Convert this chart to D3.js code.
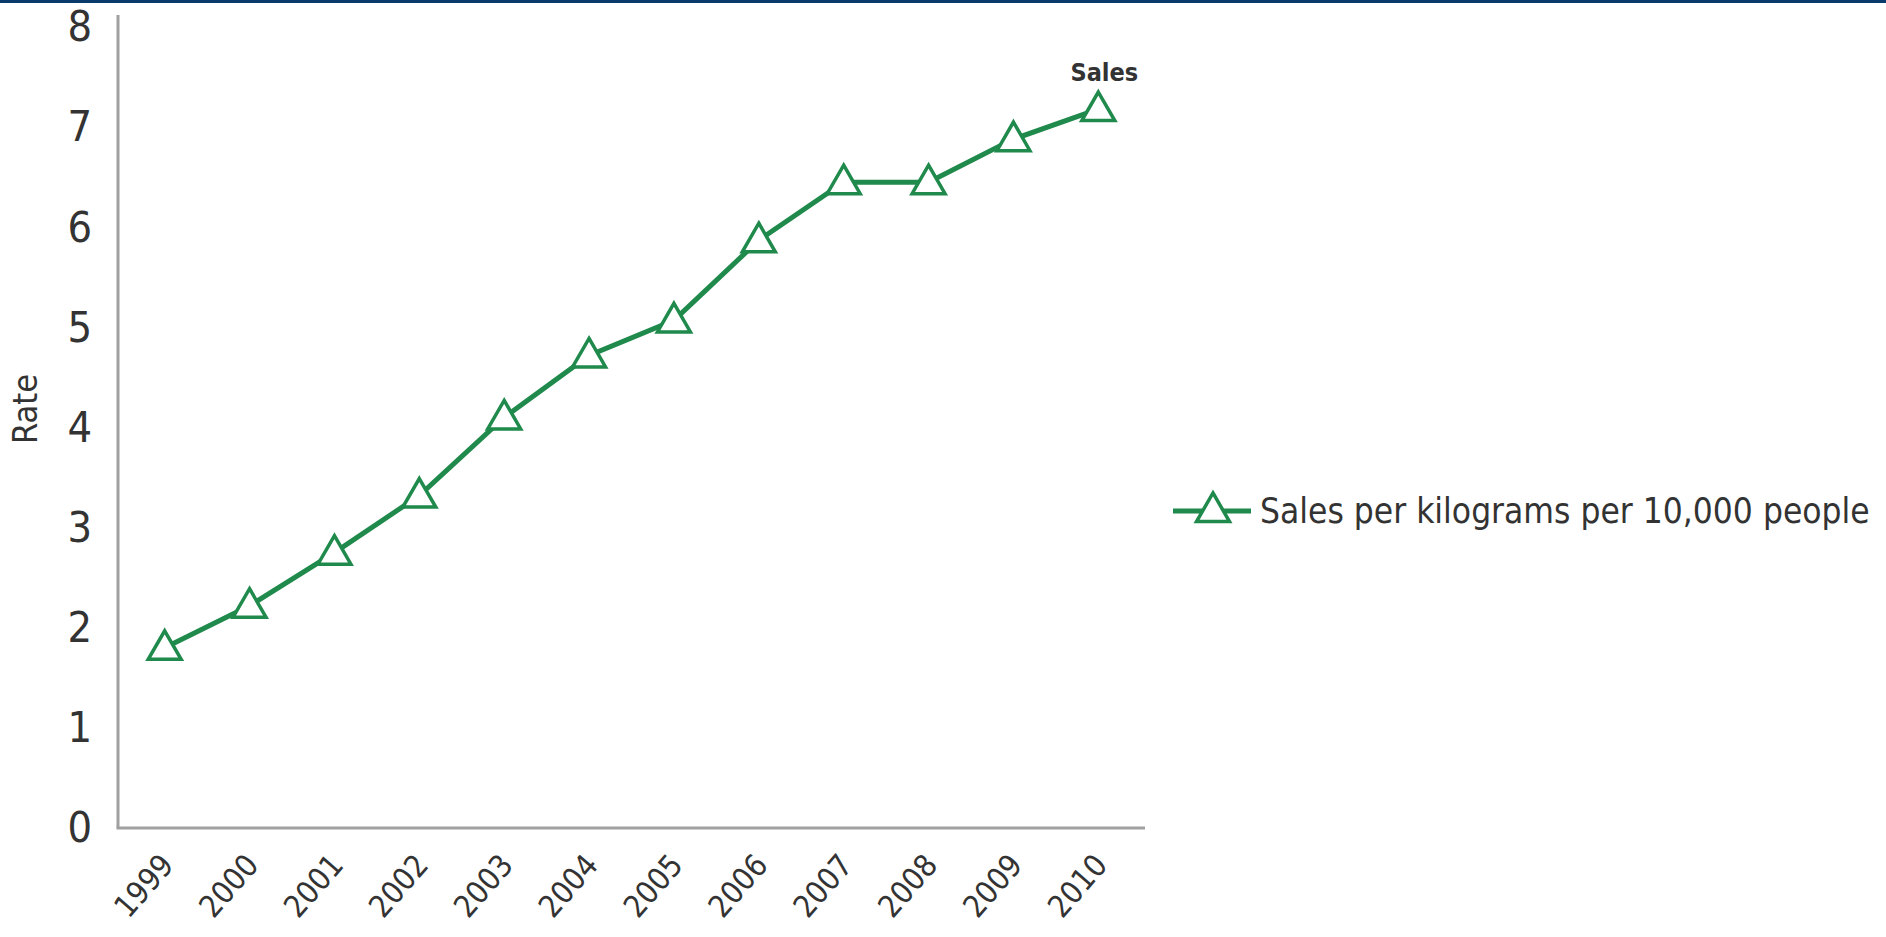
<html>
<script src="https://d3js.org/d3.v7.min.js"></script>
<style>
  body { margin: 0; background: #fff; }
  text { font-family: "DejaVu Sans Condensed", "Liberation Sans Narrow", sans-serif; fill: #333; }
</style>
<body>
<svg id="chart"></svg>
<script>
const years = ["1999","2000","2001","2002","2003","2004","2005","2006","2007","2008","2009","2010"];
const sales = [1.8, 2.22, 2.75, 3.32, 4.1, 4.72, 5.07, 5.87, 6.45, 6.45, 6.88, 7.18];
const yTicks = [0, 1, 2, 3, 4, 5, 6, 7, 8];
const seriesName = "Sales per kilograms per 10,000 people";
const seriesLabel = "Sales";
const yTitle = "Rate";

const W = 1886, H = 937;
const mLeft = 118, mRight = 1145, mBottom = 828, mTop = 27;
const green = "#1f8a4c";

const svg = d3.select("#chart").attr("width", W).attr("height", H);

// thin navy rule at the very top
svg.append("rect").attr("x", 0).attr("y", 0).attr("width", W).attr("height", 3).attr("fill", "#0a3a6b");

const x = d3.scalePoint().domain(years).range([mLeft, mRight]).padding(0.55);
const y = d3.scaleLinear().domain([0, 8]).range([mBottom, mTop]);

// axes lines
svg.append("line").attr("x1", mLeft).attr("x2", mLeft).attr("y1", 15).attr("y2", mBottom)
  .attr("stroke", "#a0a0a0").attr("stroke-width", 3);
svg.append("line").attr("x1", mLeft - 1.5).attr("x2", mRight).attr("y1", mBottom).attr("y2", mBottom)
  .attr("stroke", "#a0a0a0").attr("stroke-width", 3);

// y axis labels
const yAxis = svg.append("g").attr("transform", "translate(" + mLeft + ",0)")
  .call(d3.axisLeft(y).tickValues(yTicks).tickSize(0).tickPadding(26));
yAxis.select(".domain").remove();
yAxis.selectAll("text").style("font-size", "43px").attr("fill", "#333");

// x axis labels
const xAxis = svg.append("g").attr("transform", "translate(0," + mBottom + ")")
  .call(d3.axisBottom(x).tickSize(0));
xAxis.select(".domain").remove();
xAxis.selectAll("text")
  .style("font-size", "31px").attr("fill", "#333")
  .attr("text-anchor", "end")
  .attr("dy", null).attr("y", 0)
  .attr("transform", "translate(10,38) rotate(-49)");

// y title
svg.append("text").attr("transform", "translate(37,409) rotate(-90)")
  .attr("text-anchor", "middle").style("font-size", "34px").text(yTitle);

// line
const line = d3.line().x((d, i) => x(years[i])).y(d => y(d));
svg.append("path").datum(sales).attr("d", line)
  .attr("fill", "none").attr("stroke", green).attr("stroke-width", 5);

const tri = d3.symbol().type(d3.symbolTriangle).size(470);
svg.selectAll(".pt").data(sales).enter().append("path")
  .attr("class", "pt")
  .attr("d", tri)
  .attr("transform", (d, i) => "translate(" + x(years[i]) + "," + (y(d) + 2) + ")")
  .attr("fill", "#fff").attr("stroke", green).attr("stroke-width", 3.5);

// series label at the last point
svg.append("text")
  .attr("x", x(years[years.length - 1]) + 6)
  .attr("y", y(sales[sales.length - 1]) - 28)
  .attr("text-anchor", "middle")
  .style("font-size", "25px").style("font-weight", "bold")
  .text(seriesLabel);

// legend
const lg = svg.append("g").attr("transform", "translate(1173,511)");
lg.append("line").attr("x1", 0).attr("x2", 78).attr("y1", 0).attr("y2", 0)
  .attr("stroke", green).attr("stroke-width", 5);
lg.append("path").attr("d", tri).attr("transform", "translate(40,1)")
  .attr("fill", "#fff").attr("stroke", green).attr("stroke-width", 3.5);
lg.append("text").attr("x", 87).attr("y", 0).attr("dy", "0.35em")
  .style("font-size", "35px").text(seriesName);
</script>
</body>
</html>
